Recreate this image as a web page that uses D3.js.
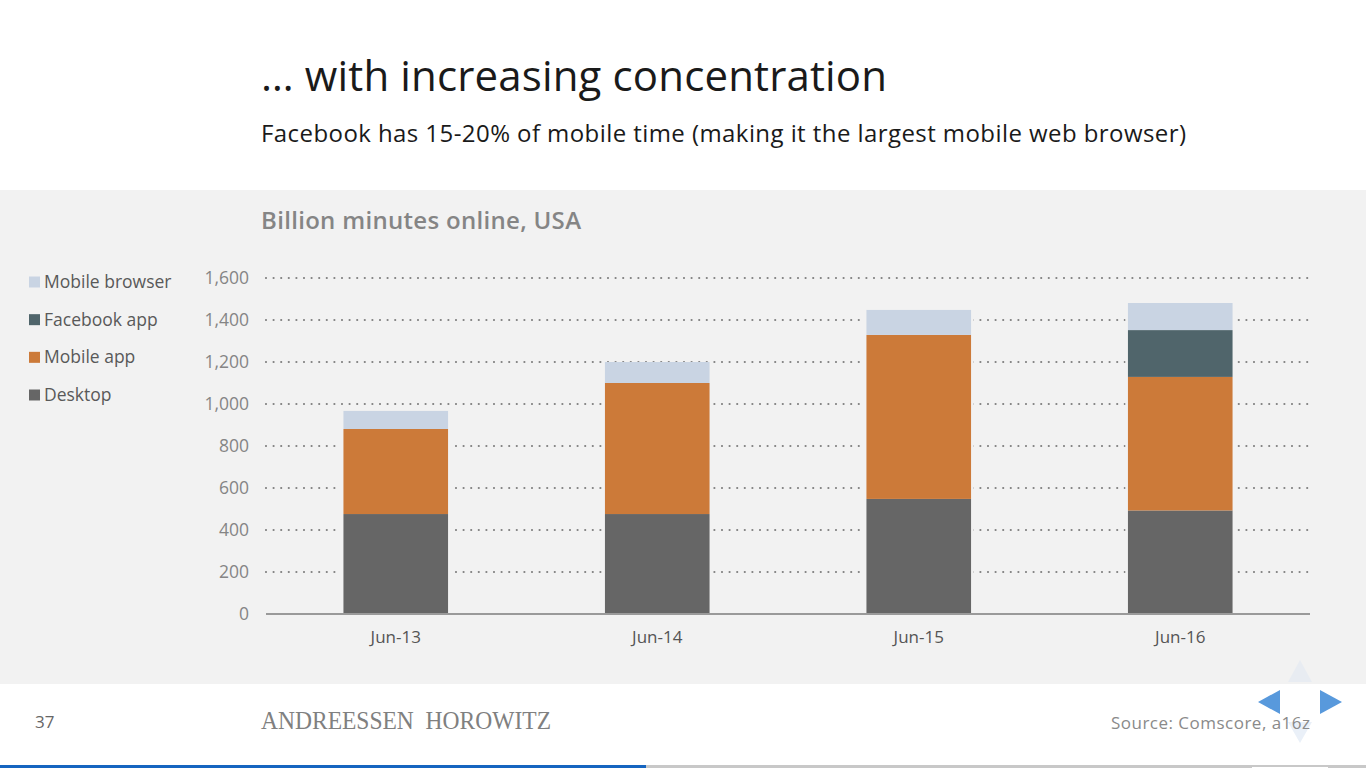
<!DOCTYPE html>
<html>
<head>
<meta charset="utf-8">
<script src="https://cdn.jsdelivr.net/npm/d3@7"></script>
<style>
  html, body { margin: 0; padding: 0; background: #fff; overflow: hidden; }
  svg { display: block; }
  text { font-family: "Open Sans", Lato, sans-serif; font-variant-ligatures: none; }
</style>
</head>
<body>
<svg id="chart" width="1366" height="768"></svg>
<script>
// Data
const months = ["Jun-13", "Jun-14", "Jun-15", "Jun-16"];
const desktop = [476, 476, 548, 493];
const mobileApp = [405, 624, 781, 636];
const facebookApp = [0, 0, 0, 223];
const mobileBrowser = [86, 100, 119, 129];

const seriesNames = ["Desktop", "Mobile app", "Facebook app", "Mobile browser"];
const seriesColors = ["#666666", "#cc7a39", "#50656b", "#c9d4e3"];
const legendOrder = ["Mobile browser", "Facebook app", "Mobile app", "Desktop"];
const yTicks = [0, 200, 400, 600, 800, 1000, 1200, 1400, 1600];

const seriesValues = [desktop, mobileApp, facebookApp, mobileBrowser];
const rows = months.map((m, i) => {
  const row = { month: m };
  seriesNames.forEach((s, j) => { row[s] = seriesValues[j][i]; });
  return row;
});

const svg = d3.select("#chart");

// Panel behind the chart
svg.append("rect")
  .attr("x", 0).attr("y", 190)
  .attr("width", 1366).attr("height", 494)
  .attr("fill", "#f2f2f2");

// Headings
svg.append("text")
  .attr("x", 261).attr("y", 91)
  .attr("font-size", 42)
  .attr("fill", "#1a1a1a")
  .attr("textLength", 626)
  .text("… with increasing concentration");

svg.append("text")
  .attr("x", 261).attr("y", 142)
  .attr("font-size", 24)
  .attr("fill", "#1a1a1a")
  .attr("textLength", 925)
  .text("Facebook has 15-20% of mobile time (making it the largest mobile web browser)");

svg.append("text")
  .attr("x", 261).attr("y", 229)
  .attr("font-size", 24)
  .attr("font-weight", 600)
  .attr("fill", "#858585")
  .attr("textLength", 320)
  .text("Billion minutes online, USA");

// Scales
const x = d3.scaleBand()
  .domain(months)
  .range([265, 1311])
  .paddingInner(0.6)
  .paddingOuter(0.3);

const y = d3.scaleLinear()
  .domain([0, 1600])
  .range([614, 278]);

const color = d3.scaleOrdinal()
  .domain(seriesNames)
  .range(seriesColors);

// Dotted grid lines
svg.append("g")
  .selectAll("line")
  .data(yTicks.filter(d => d > 0))
  .enter()
  .append("line")
  .attr("x1", 266)
  .attr("x2", 1308)
  .attr("y1", d => y(d))
  .attr("y2", d => y(d))
  .attr("stroke", "#7f7f7f")
  .attr("stroke-width", 2.2)
  .attr("stroke-linecap", "round")
  .attr("stroke-dasharray", "0 7.6");

// Halo so the dots stop short of the bars
svg.append("g")
  .selectAll("rect")
  .data(rows)
  .enter()
  .append("rect")
  .attr("x", d => x(d.month) - 2.5)
  .attr("y", d => y(d3.sum(seriesNames, s => d[s])))
  .attr("width", x.bandwidth() + 5)
  .attr("height", d => y(0) - y(d3.sum(seriesNames, s => d[s])))
  .attr("fill", "#f2f2f2");

// Stacked bars
const stacked = d3.stack().keys(seriesNames)(rows);

svg.append("g")
  .selectAll("g")
  .data(stacked)
  .enter()
  .append("g")
  .attr("fill", d => color(d.key))
  .selectAll("rect")
  .data(d => d.filter(p => p[1] > p[0]))
  .enter()
  .append("rect")
  .attr("x", d => x(d.data.month))
  .attr("y", d => y(d[1]))
  .attr("width", x.bandwidth())
  .attr("height", d => y(d[0]) - y(d[1]));

// Axes
const yAxis = svg.append("g")
  .attr("transform", "translate(249,0)")
  .call(d3.axisLeft(y).tickValues(yTicks).tickSize(0).tickPadding(0).tickFormat(d3.format(",")));
yAxis.select(".domain").remove();
yAxis.selectAll("text")
  .attr("font-size", 17.5)
  .attr("fill", "#858585")
  .style("font-family", "'Open Sans', sans-serif");

const xAxis = svg.append("g")
  .attr("transform", "translate(0,614)")
  .call(d3.axisBottom(x).tickSize(0).tickPadding(17));
xAxis.select(".domain")
  .attr("d", "M266,0H1310")
  .attr("stroke", "#9a9a9a")
  .attr("stroke-width", 2);
xAxis.selectAll("text")
  .attr("font-size", 17)
  .attr("fill", "#555555")
  .style("font-family", "'Open Sans', sans-serif");

// Legend
const legend = svg.append("g");
const legendY = d3.scalePoint().domain(legendOrder).range([282, 395]);

legend.selectAll("rect")
  .data(legendOrder)
  .enter()
  .append("rect")
  .attr("x", 29)
  .attr("y", d => legendY(d) - 5.5)
  .attr("width", 11)
  .attr("height", 11)
  .attr("fill", d => color(d));

legend.selectAll("text")
  .data(legendOrder)
  .enter()
  .append("text")
  .attr("x", 44)
  .attr("y", d => legendY(d) + 6)
  .attr("font-size", 17.5)
  .attr("fill", "#595959")
  .text(d => d);

// Slide navigation arrows
const arrows = [
  { points: "1258,702 1280,690 1280,714", fill: "#5899dc" },
  { points: "1342,702 1320,690 1320,714", fill: "#5899dc" },
  { points: "1300,660 1312,682 1288,682", fill: "#e8ecf2" },
  { points: "1300,743 1312,722 1288,722", fill: "#eaf0f8" }
];
svg.append("g")
  .selectAll("polygon")
  .data(arrows)
  .enter()
  .append("polygon")
  .attr("points", d => d.points)
  .attr("fill", d => d.fill);

// Footer
svg.append("text")
  .attr("x", 35).attr("y", 728)
  .attr("font-size", 17)
  .attr("fill", "#666666")
  .text("37");

svg.append("text")
  .attr("x", 261).attr("y", 729)
  .attr("font-size", 26)
  .attr("fill", "#808080")
  .style("font-family", "'Liberation Serif', serif")
  .attr("textLength", 290)
  .attr("lengthAdjust", "spacingAndGlyphs")
  .text("ANDREESSEN\u00a0\u00a0HOROWITZ");

svg.append("text")
  .attr("x", 1111).attr("y", 729)
  .attr("font-size", 17)
  .attr("fill", "#8a8a8a")
  .attr("textLength", 199)
  .text("Source: Comscore, a16z");

// Progress bar at the bottom
svg.append("rect").attr("x", 0).attr("y", 765).attr("width", 1366).attr("height", 3).attr("fill", "#c8c8c8");
svg.append("rect").attr("x", 0).attr("y", 765).attr("width", 646).attr("height", 3).attr("fill", "#1565c0");
svg.append("rect").attr("x", 1252).attr("y", 767).attr("width", 76).attr("height", 1).attr("fill", "#ffffff");
</script>
</body>
</html>
